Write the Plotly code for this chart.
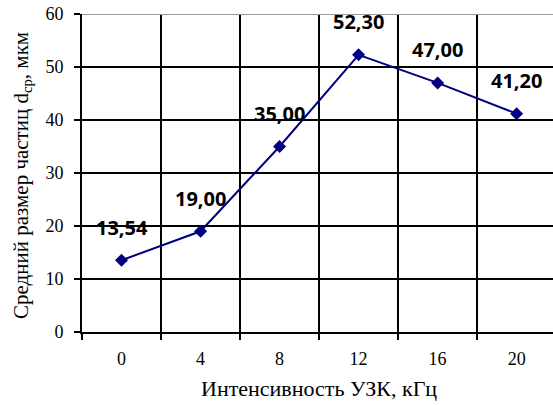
import plotly.graph_objects as go

categories = ["0", "4", "8", "12", "16", "20"]
values = [13.54, 19.00, 35.00, 52.30, 47.00, 41.20]
labels = ["13,54", "19,00", "35,00", "52,30", "47,00", "41,20"]
y_ticks = [0, 10, 20, 30, 40, 50, 60]

SERIF = "Liberation Serif, Times New Roman, serif"
xpos = list(range(len(categories)))

fig = go.Figure()
fig.add_trace(go.Scatter(
    x=xpos, y=values, mode="lines+markers",
    line=dict(color="#000080", width=2),
    marker=dict(symbol="diamond", size=10, color="#000080"),
    showlegend=False, cliponaxis=False,
))

for i, v, t in zip(xpos, values, labels):
    fig.add_annotation(x=i, y=v, xref="x", yref="y", text=t, showarrow=False, yshift=33,
                       font=dict(family="Open Sans", size=20, color="black", weight="bold"))

fig.add_shape(type="line", xref="paper", yref="y", x0=0, x1=1, y0=60, y1=60,
              line=dict(color="#999999", width=2), layer="above")

fig.add_annotation(xref="paper", yref="paper", x=(22-82)/471, y=(332-176)/318, xanchor="center", yanchor="middle",
                   text="Средний размер частиц d<sub>ср</sub>, мкм", textangle=-90, showarrow=False,
                   font=dict(family=SERIF, size=21, color="black"))
fig.add_annotation(xref="paper", yref="paper", x=(319-82)/471, y=-(388-332)/318, xanchor="center", yanchor="middle",
                   text="Интенсивность УЗК, кГц", showarrow=False,
                   font=dict(family=SERIF, size=22, color="black"))

fig.update_layout(
    width=553, height=405,
    margin=dict(l=82, r=0, t=14, b=73),
    font=dict(family=SERIF, size=18, color="black"),
    paper_bgcolor="white", plot_bgcolor="white",
    xaxis=dict(range=[-0.5, 5.46], tickvals=xpos, ticktext=categories,
               showgrid=False, showline=True, linecolor="black", linewidth=2,
               ticks="", zeroline=False,
               minor=dict(tickvals=[i - 0.5 for i in xpos], showgrid=True,
                          gridcolor="black", gridwidth=2, ticks="outside", ticklen=6,
                          tickwidth=2, tickcolor="black"),
               tickfont=dict(family=SERIF, size=18, color="black"),
               ticklabelstandoff=9),
    yaxis=dict(range=[0, 60], tickvals=y_ticks, showgrid=False,
               showline=True, linecolor="black", linewidth=2,
               ticks="outside", ticklen=6, tickwidth=2, tickcolor="black",
               minor=dict(tickvals=y_ticks[1:-1], showgrid=True, gridcolor="black", gridwidth=2),
               tickfont=dict(family=SERIF, size=18, color="black"),
               ticklabelstandoff=7, zeroline=False),
)

fig.write_html("out.html")
